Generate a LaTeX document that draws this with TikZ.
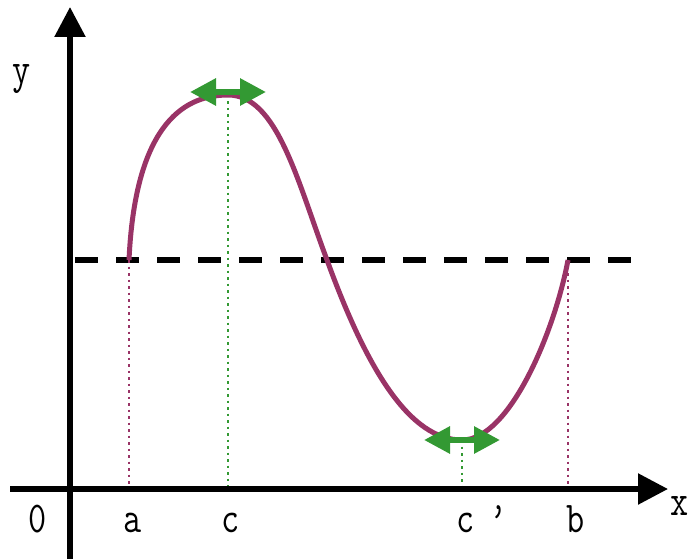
\documentclass[tikz,border=0pt]{standalone}
\usepackage{fontspec}
\usetikzlibrary{arrows.meta}
\definecolor{curvepurple}{HTML}{993366}
\definecolor{tangreen}{HTML}{339933}
\begin{document}
\begin{tikzpicture}[x=1pt,y=-1pt,
  axis/.style={line width=5.5pt,-{Triangle[length=30pt,width=30pt]}},
  lbl/.style={font=\ttfamily\fontsize{44}{44}\selectfont, inner sep=0pt, anchor=base, xscale=0.8, transform shape},
  purpdot/.style={curvepurple,line width=2.5pt,dash pattern=on 2.5pt off 4pt},
  greendot/.style={tangreen,line width=2.5pt,dash pattern=on 2.5pt off 4pt},
  tangent/.style={tangreen,line width=6pt,{Triangle[length=26pt,width=26pt]}-{Triangle[length=26pt,width=26pt]}}]
\useasboundingbox (0,0) rectangle (688,559);
% points
\coordinate (ya) at (70,559);
\coordinate (yt) at (70,7);
\coordinate (xa) at (10,489);
\coordinate (xt) at (668,489);
\coordinate (A) at (129,260);
\coordinate (C) at (228,95);
\coordinate (M) at (327,260);
\coordinate (Cp) at (462,440);
\coordinate (B) at (568,260);
\coordinate (Abot) at (129,489);
\coordinate (Cbot) at (228,489);
\coordinate (Cpbot) at (462,489);
\coordinate (Bbot) at (568,489);
\coordinate (dl) at (75,260);
\coordinate (dr) at (638,260);
\coordinate (tl) at (190,92);
\coordinate (tr) at (266,92);
\coordinate (bl) at (424,440);
\coordinate (br) at (500,440);
% dashed level
\draw[line width=6pt,dash pattern=on 23pt off 18pt] (dl) -- (dr);
% dotted verticals
\draw[purpdot] (A) -- (Abot);
\draw[purpdot] (B) -- (Bbot);
\draw[greendot] (C) -- (Cbot);
\draw[greendot] (Cp) -- (Cpbot);
% axes
\draw[axis] (ya) -- (yt);
\draw[axis] (xa) -- (xt);
% curve
\draw[curvepurple,line width=5pt]
  (A) .. controls (135,130) and (180,95) .. (C)
      .. controls (277,95) and (297,180) .. (M)
      .. controls (367,370) and (410,440) .. (Cp)
      .. controls (510,440) and (555,330) .. (B);
% tangents
\draw[tangent] (tl) -- (tr);
\draw[tangent] (bl) -- (br);
% labels
\node[lbl] (ly) at (22,84) {y};
\node[lbl] (l0) at (38,532) {0};
\node[lbl] (la) at (133,532) {a};
\node[lbl] (lc) at (231,532) {c};
\node[lbl] (lcp) at (466,532) {c};
\node[lbl] (lpr) at (499,532) {’};
\node[lbl] (lb) at (576,532) {b};
\node[lbl] (lx) at (680,515) {x};
\end{tikzpicture}
\end{document}
